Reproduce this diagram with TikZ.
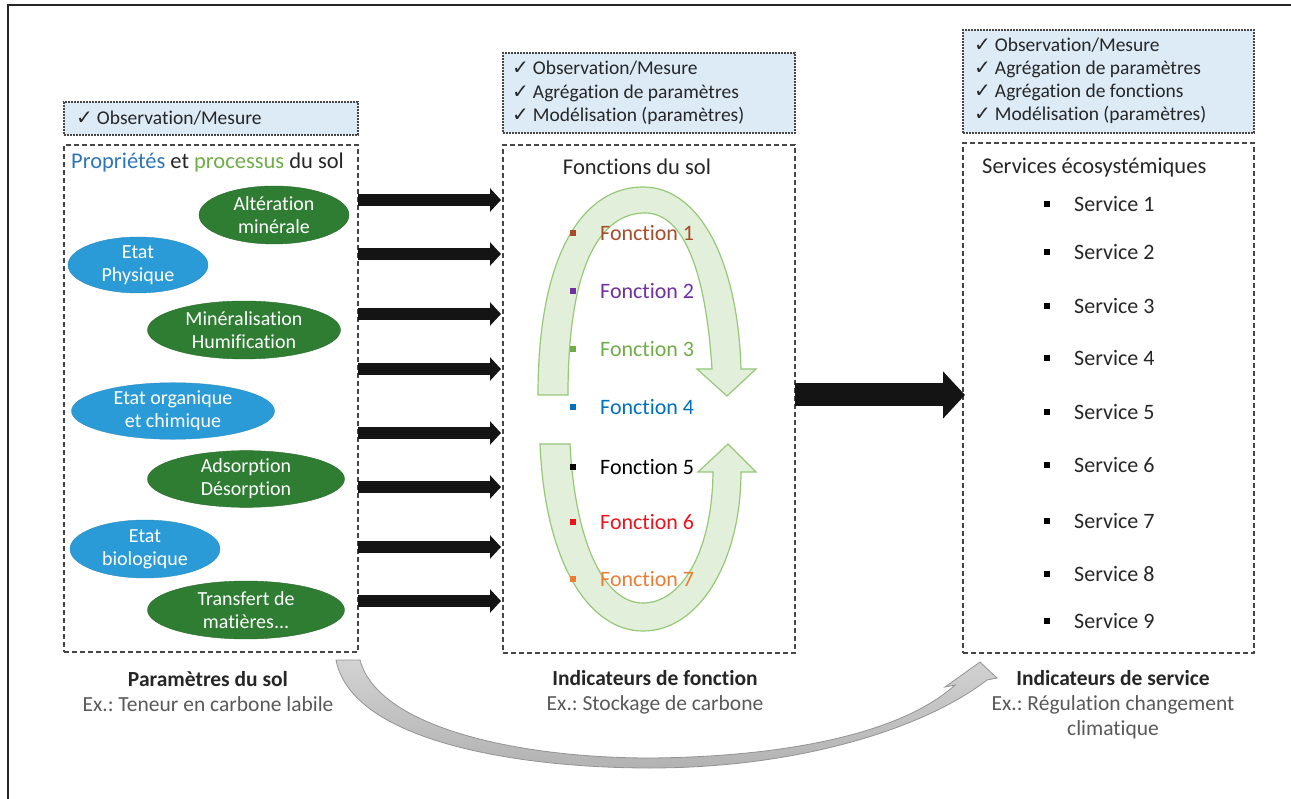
\documentclass[tikz,border=0pt]{standalone}
\usepackage{fontspec}
\setmainfont{Carlito}[Ligatures={NoCommon,NoContextual}]
\newfontfamily\dejavu{DejaVu Sans}
\usetikzlibrary{shapes.geometric,arrows.meta,calc}
\frenchspacing
\definecolor{boxblue}{RGB}{221,235,247}
\definecolor{dashgray}{RGB}{70,70,70}
\definecolor{txt}{RGB}{38,38,38}
\definecolor{exgray}{RGB}{89,89,89}
\definecolor{ellgreen}{RGB}{46,125,50}
\definecolor{ellblue}{RGB}{43,155,215}
\definecolor{propblue}{RGB}{46,117,182}
\definecolor{procgreen}{RGB}{112,173,71}
\definecolor{fone}{RGB}{168,75,40}
\definecolor{ftwo}{RGB}{112,48,160}
\definecolor{fthree}{RGB}{112,173,71}
\definecolor{ffour}{RGB}{0,112,192}
\definecolor{ffive}{RGB}{0,0,0}
\definecolor{fsix}{RGB}{235,20,30}
\definecolor{fseven}{RGB}{237,125,49}
\definecolor{cycfill}{RGB}{226,239,218}
\definecolor{cycdraw}{RGB}{150,200,120}
\newcommand{\ck}{{\dejavu\fontsize{20}{20}\selectfont ✓}\hspace{4pt}}
\tikzset{
 mainbox/.style={draw=dashgray, dash pattern=on 5pt off 3pt, line width=1.3pt, inner sep=0pt, outer sep=0pt, anchor=north west},
 topbox/.style={draw=dashgray, fill=boxblue, dash pattern=on 2pt off 1pt, line width=1.4pt, inner sep=0pt, outer sep=0pt, anchor=north west},
 toptext/.style={anchor=west, align=left, text=txt, font=\fontsize{19.5}{23.2}\selectfont, inner sep=0pt},
 proc/.style={ellipse, fill=ellgreen, draw=ellgreen!85!black, text=white, align=center, inner sep=0pt, font=\fontsize{20}{23}\selectfont},
 prop/.style={ellipse, fill=ellblue, draw=ellblue!90!black, text=white, align=center, inner sep=0pt, font=\fontsize{20}{23}\selectfont},
 itemtext/.style={anchor=west, inner sep=0pt, font=\fontsize{22}{26}\selectfont},
 bul/.style={minimum size=5.5pt, inner sep=0pt, outer sep=0pt},
 blockarrow/.style={line width=12pt, -{Triangle[width=23pt,length=11pt]}, black!92},
 headtext/.style={inner sep=0pt, text=txt, font=\fontsize{22.5}{26}\selectfont},
 cyc/.style={fill=cycfill, draw=cycdraw, line width=1.2pt},
 bottomlbl/.style={align=center, inner sep=0pt, text=txt, font=\fontsize{21.5}{25}\selectfont},
}
\begin{document}
\begin{tikzpicture}[x=1pt,y=-1pt]
\useasboundingbox (0,0) rectangle (1291,799);
% outer frame
\draw[line width=1.8pt, black!85] (8,810) -- (8,5) -- (1300,5);

% boxes
\node[topbox, minimum width=294pt, minimum height=33pt] (ltop) at (64,102) {};
\node[mainbox, minimum width=294pt, minimum height=507pt] (lbox) at (64,145) {};
\node[topbox, minimum width=292pt, minimum height=80pt] (mtop) at (503,53) {};
\node[mainbox, minimum width=292pt, minimum height=508pt] (mbox) at (503,145) {};
\node[topbox, minimum width=291pt, minimum height=103pt] (rtop) at (963,30) {};
\node[mainbox, minimum width=291pt, minimum height=510pt] (rbox) at (963,143) {};

% top box texts
\node[toptext] (ltopt) at (76,118) {\ck Observation/Mesure};
\node[toptext] (mtopt) at (512,93) {\ck Observation/Mesure\\\ck Agrégation de paramètres\\\ck Modélisation (paramètres)};
\node[toptext] (rtopt) at (974,81) {\ck Observation/Mesure\\\ck Agrégation de paramètres\\\ck Agrégation de fonctions\\\ck Modélisation (paramètres)};

% left column
\node[headtext, anchor=west] (ptitle) at (71,163) {\textcolor{propblue}{Propriétés} et \textcolor{procgreen}{processus} du sol};
\node[proc, minimum width=150pt, minimum height=58pt] (e1) at (274,215) {Altération\\minérale};
\node[prop, minimum width=140pt, minimum height=56pt] (e2) at (138,265) {Etat\\Physique};
\node[proc, minimum width=193pt, minimum height=58pt] (e3) at (244,330) {Minéralisation\\Humification};
\node[prop, minimum width=203pt, minimum height=55pt] (e4) at (173,411) {Etat organique\\et chimique};
\node[proc, minimum width=197pt, minimum height=56pt] (e5) at (246,479) {Adsorption\\Désorption};
\node[prop, minimum width=150pt, minimum height=58pt] (e6) at (145,549) {Etat\\biologique};
\node[proc, minimum width=197pt, minimum height=58pt] (e7) at (246,610) {Transfert de\\matières...};

% arrows left -> middle
\foreach \y [count=\i] in {200,254,314,369,433,487,547,601} {
  \coordinate (las\i) at ($(lbox.north east)+(0,\y-145)$);
  \coordinate (lae\i) at ($(mbox.north west)+(-2,\y-145)$);
  \draw[blockarrow] (las\i) -- (lae\i);
}

% middle column
\node[headtext] (ftitle) at (637,167) {Fonctions du sol};
\draw[cyc] (538,395) .. controls (538,250) and (585,187) .. (643,187)
  .. controls (700,187) and (738,262) .. (741,369) -- (756,369) -- (727,396) -- (697,369) -- (712,369)
  .. controls (706,275) and (685,213) .. (645,213)
  .. controls (602,213) and (568,262) .. (568,395) -- cycle;
\draw[cyc] (540,444) .. controls (545,565) and (590,631) .. (643,631)
  .. controls (700,631) and (741,560) .. (741,472) -- (756,472) -- (728,444) -- (698,472) -- (713,472)
  .. controls (712,555) and (680,603) .. (643,603)
  .. controls (603,603) and (575,540) .. (570,444) -- cycle;
\foreach \y/\c/\n in {233/fone/1,291/ftwo/2,349/fthree/3,407/ffour/4,467/ffive/5,522/fsix/6,579/fseven/7} {
  \node[bul, fill=\c] (fb\n) at (573,\y) {};
  \node[itemtext, text=\c] (ft\n) at (600,\y) {Fonction \n};
}

% big arrow middle -> right
\coordinate (bas) at ($(mbox.north east)+(0,250)$);
\coordinate (bae) at ($(rbox.north west)+(2,252)$);
\draw[line width=23pt, -{Triangle[width=46pt,length=22pt]}, black!92] (bas) -- (bae);

% right column
\node[headtext, anchor=west] (stitle) at (982,168) {Services écosystémiques};
\foreach \y [count=\n] in {204,252,306,358,412,465,521,574,621} {
  \node[bul, fill=black] (sb\n) at (1047,\y) {};
  \node[itemtext, text=txt] (st\n) at (1074,\y) {Service \n};
}

% bottom labels
\node[bottomlbl] (lbl1) at (208,692) {\textbf{Paramètres du sol}\\\textcolor{exgray}{Ex.: Teneur en carbone labile}};
\node[bottomlbl] (lbl2) at (655,692) {\textbf{Indicateurs de fonction}\\\textcolor{exgray}{Ex.: Stockage de carbone}};
\node[bottomlbl] (lbl3) at (1113,705) {\textbf{Indicateurs de service}\\\textcolor{exgray}{Ex.: Régulation changement}\\\textcolor{exgray}{climatique}};

% gray curved arrow
\shade[top color=gray!35, bottom color=gray!60, draw=gray!85, line width=0.8pt]
  (336,660) .. controls (352,742) and (520,768) .. (650,768)
  .. controls (800,768) and (925,728) .. (987,680) -- (997,678) -- (980,662) -- (945,687) -- (955,685)
  .. controls (900,735) and (780,757) .. (650,758)
  .. controls (520,758) and (378,728) .. (360,660) -- cycle;
\end{tikzpicture}
\end{document}
